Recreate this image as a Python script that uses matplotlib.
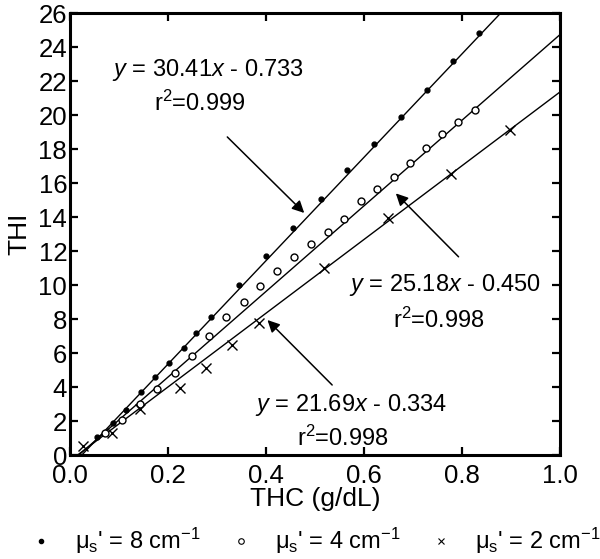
import numpy as np
import matplotlib
matplotlib.use('Agg')
import matplotlib.pyplot as plt
from matplotlib.lines import Line2D

plt.rcParams['font.family'] = 'Liberation Sans'
plt.rcParams['mathtext.fontset'] = 'custom'
plt.rcParams['mathtext.rm'] = 'Liberation Sans'
plt.rcParams['mathtext.it'] = 'Liberation Sans:italic'

# mu_s' = 8 cm^-1
thc_8 = [0.056, 0.087, 0.115, 0.145, 0.174, 0.202, 0.233, 0.257, 0.288, 0.345,
         0.401, 0.456, 0.512, 0.566, 0.621, 0.675, 0.728, 0.781, 0.834]
thi_8 = [1.04, 1.86, 2.65, 3.69, 4.59, 5.39, 6.31, 7.19, 8.10, 9.98,
         11.71, 13.35, 15.04, 16.75, 18.29, 19.86, 21.47, 23.16, 24.81]

# mu_s' = 4 cm^-1
thc_4 = [0.071, 0.107, 0.142, 0.178, 0.214, 0.249, 0.284, 0.319, 0.355, 0.388,
         0.423, 0.458, 0.492, 0.526, 0.560, 0.594, 0.627, 0.661, 0.694, 0.727,
         0.760, 0.792, 0.826]
thi_4 = [1.28, 2.06, 2.98, 3.87, 4.82, 5.84, 7.00, 8.10, 9.02, 9.92,
         10.84, 11.63, 12.41, 13.14, 13.86, 14.96, 15.65, 16.35, 17.16, 18.04,
         18.86, 19.58, 20.29]

# mu_s' = 2 cm^-1
thc_2 = [0.027, 0.085, 0.142, 0.224, 0.278, 0.331, 0.385, 0.519, 0.648, 0.777, 0.899]
thi_2 = [0.53, 1.31, 2.69, 3.96, 5.14, 6.47, 7.78, 10.98, 13.92, 16.53, 19.12]

# linear fits (slope, intercept, r2)
fits = [(30.41, -0.733, '0.999'), (25.18, -0.450, '0.998'), (21.69, -0.334, '0.998')]

fig = plt.figure(figsize=(6, 5.59), dpi=100)
ax = fig.add_axes([0.1167, 0.186, 0.8166, 0.7907])

xfit = np.linspace(0, 1, 200)
for slope, icpt, r2 in fits:
    ax.plot(xfit, slope * xfit + icpt, color='k', lw=1.0)

ax.plot(thc_8, thi_8, 'o', color='k', markersize=3.5, zorder=3)
ax.plot(thc_4, thi_4, 'o', mfc='white', mec='k', mew=1.0, markersize=5, zorder=3)
ax.plot(thc_2, thi_2, 'x', color='k', mew=1.0, markersize=7, zorder=3)

ax.set_xlim(0, 1.0)
ax.set_ylim(0, 26)
ax.set_xticks(np.arange(0, 1.01, 0.2))
ax.set_xticklabels(['0.0', '0.2', '0.4', '0.6', '0.8', '1.0'])
ax.set_yticks(np.arange(0, 27, 2))
ax.tick_params(direction='in', length=6, width=1.6, top=True, right=True, labelsize=18.5)
ax.tick_params(axis='x', pad=6.5)
ax.tick_params(axis='y', pad=2)
for sp in ax.spines.values():
    sp.set_linewidth(2.2)

ax.set_xlabel('THC (g/dL)', fontsize=19, labelpad=-1)
ax.set_ylabel('THI', fontsize=19, labelpad=5)

fs = 17
arrow = dict(arrowstyle='-|>', mutation_scale=18, lw=1.1, color='k', shrinkA=0, shrinkB=0)

# annotation 1
ax.text(0.281, 22.65, r'$\it{y}$ = 30.41$\it{x}$ - 0.733', fontsize=fs, ha='center', va='center')
ax.text(0.266, 20.71, r'r$^\mathregular{2}$=0.999', fontsize=fs, ha='center', va='center')
ax.annotate('', xy=(0.478, 14.24), xytext=(0.321, 18.71), arrowprops=arrow)

# annotation 2
ax.text(0.766, 10.0, r'$\it{y}$ = 25.18$\it{x}$ - 0.450', fontsize=fs, ha='center', va='center')
ax.text(0.753, 7.94, r'r$^\mathregular{2}$=0.998', fontsize=fs, ha='center', va='center')
ax.annotate('', xy=(0.665, 15.39), xytext=(0.793, 11.66), arrowprops=arrow)

# annotation 3
ax.text(0.574, 2.94, r'$\it{y}$ = 21.69$\it{x}$ - 0.334', fontsize=fs, ha='center', va='center')
ax.text(0.557, 1.0, r'r$^\mathregular{2}$=0.998', fontsize=fs, ha='center', va='center')
ax.annotate('', xy=(0.403, 7.94), xytext=(0.535, 4.12), arrowprops=arrow)

handles = [
    Line2D([], [], ls='none', marker='o', color='k', markersize=3),
    Line2D([], [], ls='none', marker='o', mfc='white', mec='k', mew=0.8, markersize=4),
    Line2D([], [], ls='none', marker='x', color='k', mew=0.8, markersize=5),
]
labels = [r"$\mathregular{\mu_s}$' = 8 cm$^\mathregular{-1}$",
          r"$\mathregular{\mu_s}$' = 4 cm$^\mathregular{-1}$",
          r"$\mathregular{\mu_s}$' = 2 cm$^\mathregular{-1}$"]
fig.legend(handles, labels, loc='center', bbox_to_anchor=(0.527, 0.032), ncol=3,
           frameon=False, fontsize=17, handlelength=0.8, handletextpad=1.05,
           columnspacing=1.3, borderpad=0)

fig.savefig('out.png', dpi=100)
